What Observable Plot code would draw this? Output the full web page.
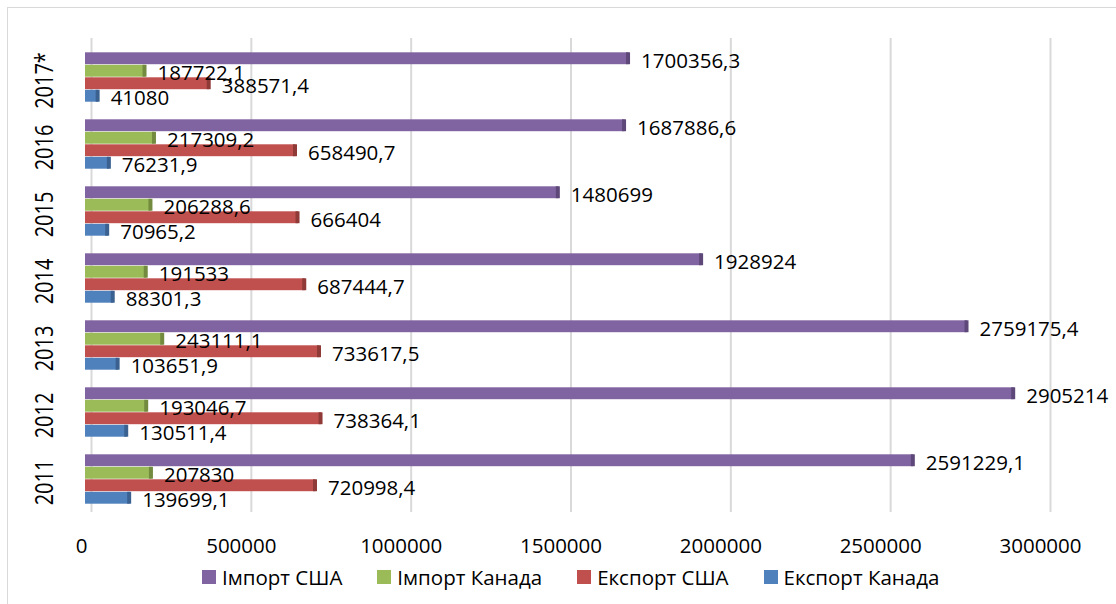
<!DOCTYPE html>
<html>
<head>
<meta charset="utf-8">
<script src="https://cdn.jsdelivr.net/npm/d3@7"></script>
<script src="https://cdn.jsdelivr.net/npm/@observablehq/plot@0.6"></script>
<style>
  html, body { margin: 0; padding: 0; background: #fff; overflow: hidden; }
  body { width: 1116px; height: 604px; position: relative; font-family: "Open Sans", sans-serif; }
  #frame { position: absolute; left: 7px; top: 7px; width: 1200px; height: 700px; border-left: 1.5px solid #d9d9d9; border-top: 1.5px solid #d9d9d9; }
  #chart { position: absolute; left: 0; top: 0; }
  #legend { position: absolute; left: 202px; top: 565px; display: flex; gap: 35px; font-size: 20.5px; color: #000; line-height: 24px; }
  .item { display: flex; align-items: center; gap: 6px; }
  .sw { width: 14px; height: 14px; display: inline-block; }
</style>
</head>
<body>
<div id="frame"></div>
<div id="chart"></div>
<div id="legend"></div>
<script>
const years = ["2011", "2012", "2013", "2014", "2015", "2016", "2017*"];
const seriesNames = ["Імпорт США", "Імпорт Канада", "Експорт США", "Експорт Канада"];
const importUSA    = [2591229.1, 2905214, 2759175.4, 1928924, 1480699, 1687886.6, 1700356.3];
const importCanada = [207830, 193046.7, 243111.1, 191533, 206288.6, 217309.2, 187722.1];
const exportUSA    = [720998.4, 738364.1, 733617.5, 687444.7, 666404, 658490.7, 388571.4];
const exportCanada = [139699.1, 130511.4, 103651.9, 88301.3, 70965.2, 76231.9, 41080];
const xTicks = [0, 500000, 1000000, 1500000, 2000000, 2500000, 3000000];

const colors = ["#8064A2", "#9BBB59", "#C0504D", "#4F81BD"];
const capColors = ["#5E4879", "#728B3F", "#8F3A37", "#3A6190"];
const seriesValues = [importUSA, importCanada, exportUSA, exportCanada];

const seg = 12.5; // thickness of one bar slot within a year band
const fmt = v => String(v).replace(".", ",");

const barMarks = [];
const capMarks = [];
const labelMarks = [];
seriesValues.forEach((vals, k) => {
  const data = years.map((y, i) => ({year: y, value: vals[i]}));
  const it = k * seg + 0.3, ib = (3 - k) * seg + 0.3;
  barMarks.push(Plot.barX(data, {x1: 0, x2: "value", y: "year", fill: colors[k], insetTop: it, insetBottom: ib}));
  capMarks.push(Plot.tickX(data, {x: "value", y: "year", stroke: capColors[k], strokeWidth: 4, dx: -1, insetTop: it, insetBottom: ib}));
  labelMarks.push(Plot.text(data, {x: "value", y: "year", text: d => fmt(d.value), textAnchor: "start", dx: 12, dy: k * seg - 18.75 + 2.5, fontSize: 20.5, fill: "#000"}));
});

const chart = Plot.plot({
  width: 1116,
  height: 560,
  marginTop: 41,
  marginBottom: 45,
  marginLeft: 85,
  marginRight: 72,
  style: {fontFamily: "Open Sans, sans-serif", background: "transparent", overflow: "visible"},
  x: {domain: [0, 3000000], axis: null},
  y: {domain: years.slice().reverse(), paddingInner: 0.26, paddingOuter: 0.133, axis: null},
  marks: [
    Plot.ruleX(xTicks, {x: d => d, dx: 6, dy: -3, stroke: "#d9d9d9", strokeWidth: 2}),
    ...barMarks,
    ...capMarks,
    ...labelMarks,
    Plot.text(xTicks, {x: d => d, text: d => String(d), frameAnchor: "bottom", dy: 37, dx: -4, fontSize: 20.5, fill: "#000"}),
    Plot.text(years, {y: d => d, text: d => d, frameAnchor: "left", textAnchor: "middle", lineAnchor: "middle", dx: -41, dy: 3, rotate: -90, fontSize: 20, fill: "#000"})
  ]
});
document.getElementById("chart").appendChild(chart);

// thicken the rotated year labels (the reference's glyphs are stretched)
const textGroups = chart.querySelectorAll('g[aria-label="text"]');
const yLabGroup = textGroups[textGroups.length - 1];
yLabGroup.querySelectorAll("text").forEach(t => {
  const tr = t.getAttribute("transform") || "";
  t.setAttribute("transform", tr + " scale(1,1.25)");
});

const legend = document.getElementById("legend");
seriesNames.forEach((name, k) => {
  const item = document.createElement("div");
  item.className = "item";
  const sw = document.createElement("span");
  sw.className = "sw";
  sw.style.background = colors[k];
  const lab = document.createElement("span");
  lab.textContent = name;
  item.appendChild(sw);
  item.appendChild(lab);
  legend.appendChild(item);
});
</script>
</body>
</html>
